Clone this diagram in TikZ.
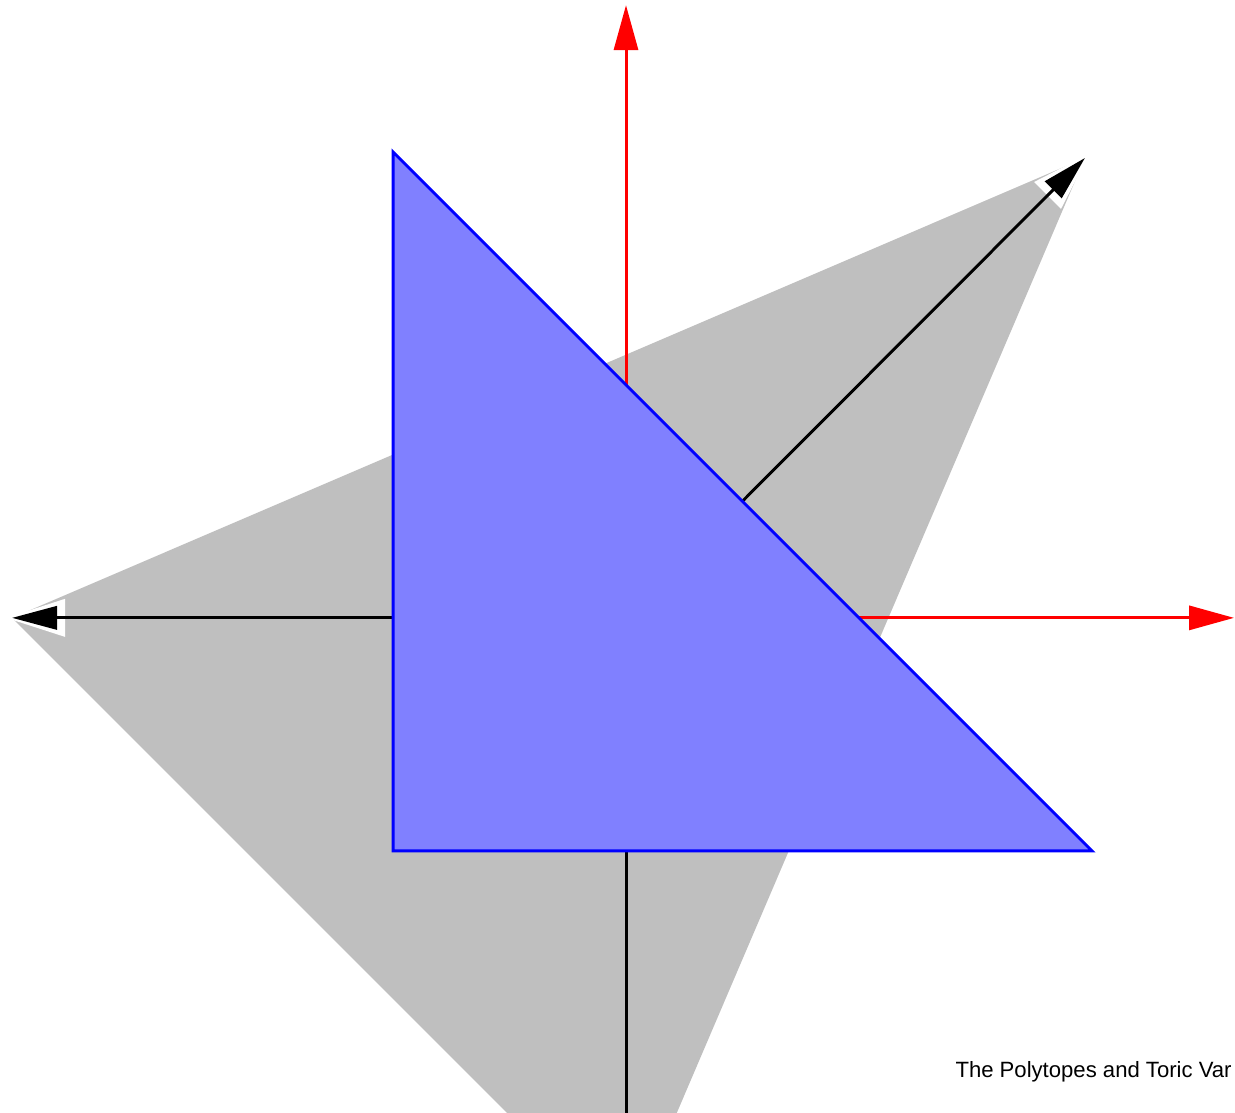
\documentclass[tikz,border=0pt]{standalone}
\usepackage{fontspec}
\setmainfont{Liberation Sans}
\usetikzlibrary{arrows.meta}
\definecolor{axisCol}{RGB}{255,0,0}
\definecolor{coneGray}{RGB}{191,191,191}
\definecolor{polyCol}{RGB}{128,128,255}
\definecolor{edgeCol}{RGB}{0,0,255}
\tikzset{
  axis/.style={draw=axisCol,line width=1.1pt,-{Triangle[length=5.8mm,width=3.1mm]}},
  ray/.style={draw=black,line width=1.1pt,-{Triangle[length=5.8mm,width=3mm]}},
  halo/.style={draw=white,line width=1.1pt,shorten >=-2.2pt,
               -{Triangle[length=7.6mm,width=4.8mm]}},
  hull/.style={fill=coneGray},
  poly/.style={draw=edgeCol,line width=1.1pt,fill=polyCol},
  lab/.style={font=\fontsize{8.1}{10}\selectfont,inner sep=0pt},
}
\begin{document}
\begin{tikzpicture}[x=3cm,y=3cm]
  \useasboundingbox (-2.687,-2.124) rectangle (2.614,2.652);
  \clip (-2.687,-2.124) rectangle (2.614,2.652);
  % origin and end points of the rays
  \coordinate (O) at (0,0);
  \coordinate (ex) at (2.61,0);
  \coordinate (ey) at (0,2.63);
  \coordinate (r1) at (-2.635,0);
  \coordinate (r2) at (1.97,1.974);
  \coordinate (r3) at (0,-2.635);
  % polytope corners
  \coordinate (p1) at (-1,2);
  \coordinate (p2) at (-1,-1);
  \coordinate (p3) at (2,-1);
  \fill[hull] (r1) -- (r2) -- (r3) -- cycle;
  \draw[axis] (O) -- (ex);
  \draw[axis] (O) -- (ey);
  \foreach \r in {r1,r2,r3} {
    \draw[halo] (O) -- (\r);
    \draw[ray] (O) -- (\r);
  }
  \draw[poly] (p1) -- (p2) -- (p3) -- cycle;
  \node[lab,anchor=base west] (title) at (1.412,-1.974) {The Polytopes and Toric Var};
\end{tikzpicture}
\end{document}
